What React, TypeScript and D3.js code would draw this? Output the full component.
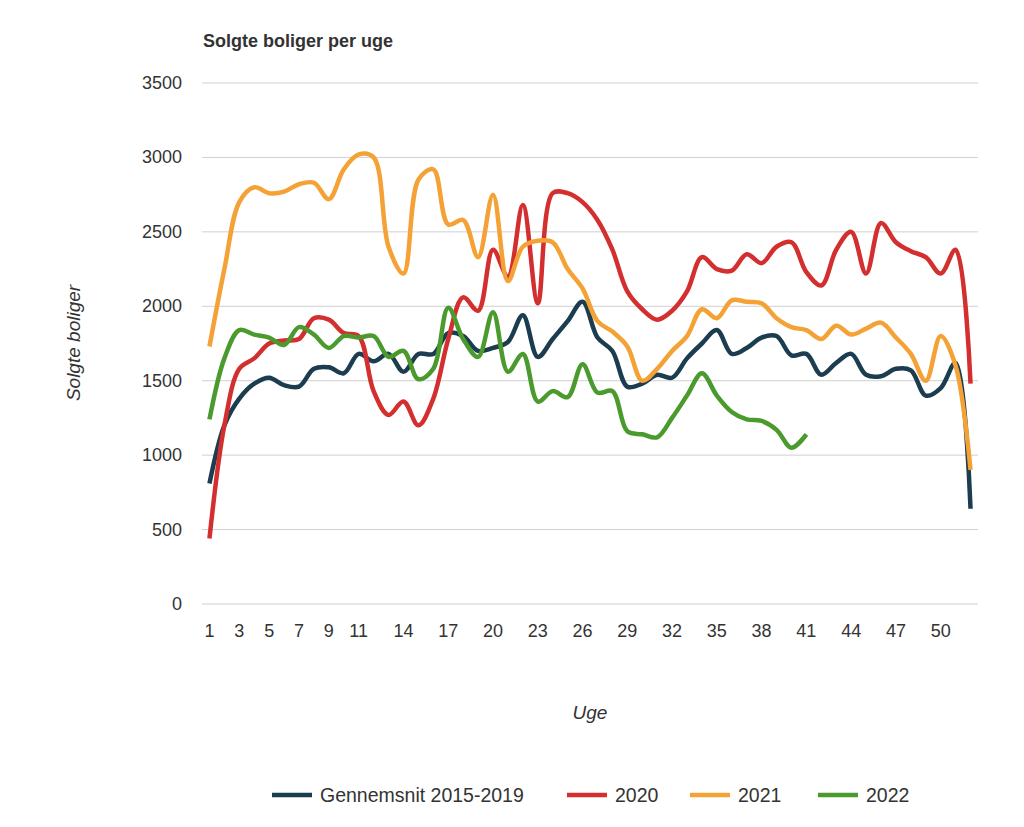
import * as d3 from "d3"

const weeks = d3.range(1, 53)
const tickWeeks = [1, 3, 5, 7, 9, 11, 14, 17, 20, 23, 26, 29, 32, 35, 38, 41, 44, 47, 50]
const yTicks = [0, 500, 1000, 1500, 2000, 2500, 3000, 3500]

const avg = [810, 1200, 1380, 1480, 1520, 1470, 1460, 1580, 1590, 1550, 1680, 1630, 1680, 1560, 1680, 1680, 1820, 1800, 1700, 1720, 1760, 1940, 1660, 1780, 1900, 2030, 1790, 1700, 1460, 1480, 1540, 1520, 1650, 1750, 1840, 1680, 1720, 1790, 1800, 1670, 1680, 1540, 1620, 1680, 1540, 1530, 1580, 1570, 1400, 1450, 1620, 640]
const y2020 = [440, 1200, 1580, 1650, 1750, 1770, 1780, 1920, 1910, 1820, 1800, 1430, 1270, 1360, 1200, 1380, 1780, 2060, 1970, 2380, 2200, 2680, 2020, 2760, 2760, 2700, 2580, 2380, 2100, 1980, 1910, 1970, 2100, 2330, 2250, 2240, 2350, 2290, 2400, 2430, 2230, 2140, 2380, 2500, 2220, 2560, 2430, 2370, 2330, 2220, 2380, 1480]
const y2021 = [1730, 2250, 2700, 2800, 2760, 2770, 2820, 2830, 2720, 2920, 3020, 3000, 2400, 2220, 2850, 2920, 2550, 2580, 2330, 2750, 2170, 2400, 2440, 2430, 2250, 2120, 1900, 1830, 1730, 1500, 1580, 1700, 1800, 1980, 1920, 2040, 2030, 2020, 1920, 1860, 1840, 1780, 1870, 1810, 1850, 1890, 1790, 1680, 1500, 1800, 1600, 900]
const y2022 = [1240, 1650, 1840, 1810, 1790, 1740, 1860, 1810, 1720, 1800, 1790, 1800, 1660, 1700, 1510, 1580, 1990, 1780, 1660, 1960, 1560, 1680, 1360, 1430, 1390, 1610, 1420, 1430, 1160, 1140, 1120, 1250, 1400, 1550, 1400, 1290, 1240, 1230, 1170, 1050, 1140]

const series = [
    { name: "Gennemsnit 2015-2019", values: avg, color: "#1b3d4f", lx: 272 },
    { name: "2020", values: y2020, color: "#d32f2f", lx: 567 },
    { name: "2021", values: y2021, color: "#f4a236", lx: 690 },
    { name: "2022", values: y2022, color: "#4a9a2e", lx: 818 },
]

export default function App() {
    const W = 1024, H = 827
    const left = 202, right = 978, top = 83, bottom = 604
    const x = d3.scalePoint<number>().domain(weeks).range([left, right]).padding(0.5)
    const y = d3.scaleLinear().domain([0, 3500]).range([bottom, top])
    const line = d3.line<number>()
        .x((_, i) => x(weeks[i])!)
        .y(d => y(d))
        .curve(d3.curveCatmullRom.alpha(0.5))
    const font = "Helvetica, 'Liberation Sans', Arial, sans-serif"

    return (
        <svg width={W} height={H} style={{ position: "absolute", left: 0, top: 0, fontFamily: font }}>
            <rect width={W} height={H} fill="#fff" />
            <text x={203} y={47} fontSize={18} fontWeight="bold" fill="#333">Solgte boliger per uge</text>
            {yTicks.map(t => (
                <g key={t}>
                    <line x1={left} x2={right} y1={y(t)} y2={y(t)} stroke="#d0d0d0" strokeWidth={1} />
                    <text x={182} y={y(t) + 6} fontSize={18} fill="#333" textAnchor="end">{t}</text>
                </g>
            ))}
            {tickWeeks.map(w => (
                <text key={w} x={x(w)} y={637} fontSize={18} fill="#333" textAnchor="middle">{w}</text>
            ))}
            <text transform="translate(80,343) rotate(-90)" fontSize={19} fontStyle="italic" fill="#333" textAnchor="middle">Solgte boliger</text>
            <text x={590} y={719} fontSize={19} fontStyle="italic" fill="#333" textAnchor="middle">Uge</text>
            {series.map(s => (
                <path key={s.name} d={line(s.values) ?? ""} fill="none" stroke={s.color} strokeWidth={4.5} strokeLinejoin="round" />
            ))}
            {series.map(s => (
                <g key={s.name}>
                    <line x1={s.lx} x2={s.lx + 40} y1={795} y2={795} stroke={s.color} strokeWidth={4.5} />
                    <text x={s.lx + 48} y={802} fontSize={19.5} fill="#333">{s.name}</text>
                </g>
            ))}
        </svg>
    )
}
